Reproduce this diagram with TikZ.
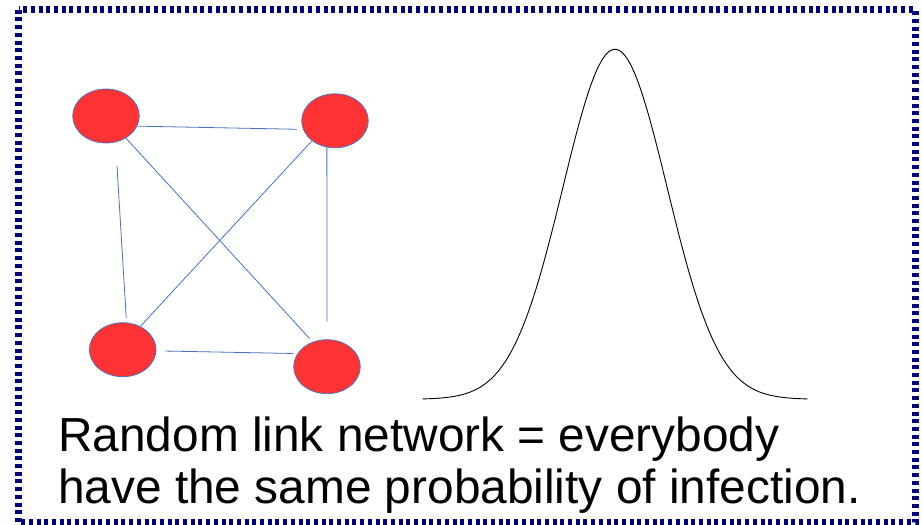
\documentclass[tikz,border=0pt]{standalone}
\usepackage{fontspec}
\setmainfont{Liberation Sans}
\usepackage{tikz}
\usetikzlibrary{shapes.geometric}
\definecolor{FrameNavy}{HTML}{000080}
\definecolor{NodeRed}{HTML}{FF3333}
\definecolor{LinkBlue}{HTML}{4472C4}
\tikzset{
  ND/.style={ellipse,minimum width=66.6pt,minimum height=54pt,inner sep=0pt,
             fill=NodeRed,draw=LinkBlue,line width=0.75pt},
  lk/.style={draw=LinkBlue,line width=0.8pt},
  frm/.style={draw=FrameNavy,line width=7pt,dash pattern=on 4pt off 3.7pt},
  TX/.style={inner sep=0pt,align=left,anchor=base west,
             font=\fontsize{47.8}{51.7}\selectfont}
}
\begin{document}
\begin{tikzpicture}[x=1pt,y=-1pt]
  \useasboundingbox (0,0) rectangle (922,525);
  \draw[frm] (18.5,9.7) rectangle (915,522.8);

  \node[ND] (A) at (106,116) {};
  \node[ND] (B) at (335,120.8) {};
  \node[ND] (C) at (122.7,349.7) {};
  \node[ND] (D) at (327,366.7) {};

  \draw[lk,shorten >=6pt] (A.-18.9) -- (B.195.1);
  \draw[lk,shorten <=23.6pt,shorten >=4.5pt] (A.-70.9) -- (C.82.7);
  \draw[lk,shorten >=4.5pt] (A.-48.4) -- (D.120.9);
  \draw[lk] (B.221.9) -- (C.53.9);
  \draw[lk,shorten >=17.7pt] (B.253.2) -- (D.90);
  \draw[lk,shorten <=9pt,shorten >=4.6pt] (C.-2.7) -- (D.156);

  \draw[black,line width=0.9pt,smooth,samples=120,domain=-3.7:3.7]
    plot ({615+52*\x},{399.3-350*exp(-\x*\x/2)});

  \node[TX] (cap) at (58,503.3) {Random link network = everybody\\have the same probability of infection.};
\end{tikzpicture}
\end{document}
